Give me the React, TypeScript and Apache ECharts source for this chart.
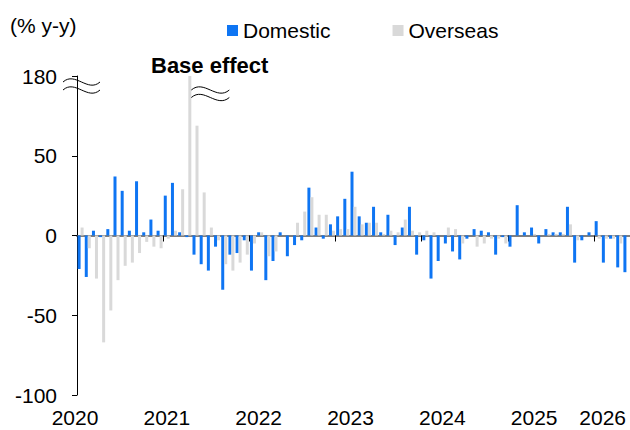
import React, { useEffect, useRef } from "react";
import * as echarts from "echarts";

// ---------- data ----------
const yearLabels = ["2020", "2021", "2022", "2023", "2024", "2025", "2026"];
const monthNames = ["01", "02", "03", "04", "05", "06", "07", "08", "09", "10", "11", "12"];
const monthCount = 77; // Jan 2020 .. May 2026
const months: string[] = [];
for (let i = 0; i < monthCount; i++) {
  months.push(yearLabels[Math.floor(i / 12)] + "-" + monthNames[i % 12]);
}

const domestic = [
  -21, -26, 3, -1, 4, 37, 28, 3, 34, 2, 10, 3,
  25, 33, 2, -1, -12, -18, -22, -7, -34, -12, -11, -3,
  -22, 2, -28, -16, 2, -13, -6, -3, 30, 5, -2, 7,
  12, 23, 40, 12, 8, 18, 2, 13, -6, 5, 18, -12,
  -3, -27, -16, -5, -10, -15, -2, 4, 3, 2, -12, -1,
  -7, 19, 2, 5, -5, 4, 2, 2, 18, -17, -3, 2,
  9, -17, -2, -20, -23,
];

const overseas = [
  5, -8, -27, -67, -47, -28, -19, -17, -11, -4, -7, -8,
  -2, 3, 29, 180, 99, 27, 5, -3, -18, -22, -17, -12,
  -5, 2, -13, -10, 0, 0, 8, 15, 24, 13, 13, 3,
  4, 4, 18, 7, 8, 8, 1, 3, 2, 10, 3, 2,
  3, 2, 0, 5, 4, -5, 0, -7, -5, -2, -2, -5,
  0, 0, 0, 1, 0, 1, 1, 1, 7, -3, 0, 0,
  -2, -2, -2, -5, null,
];

const yTicks = [-100, -50, 0, 50, 100]; // axis positions; 100 is shown as the break top
const BRK_LO = 50;
const BRK_HI = 180;
const AX_TOP = 100;

const toAxis = (v: number | null) =>
  v == null ? null : v > BRK_LO ? BRK_LO + ((v - BRK_LO) * (AX_TOP - BRK_LO)) / (BRK_HI - BRK_LO) : v;
const fromAxisLabel = (v: number) => (v >= AX_TOP ? String(BRK_HI) : String(v));

// ---------- style ----------
const FONT = "'Liberation Sans', Arial, sans-serif";
const BLUE = "#0E75F3";
const GRAY = "#D9D9D9";
const GRID_LEFT = 77;
const GRID_TOP = 76;
const GRID_BOTTOM = 35;

const wave = (x0: number, cy: number, w: number) => ({
  type: "bezierCurve",
  silent: true,
  z: 100,
  shape: {
    x1: x0,
    y1: cy,
    cpx1: x0 + w / 3,
    cpy1: cy - 11,
    cpx2: x0 + (2 * w) / 3,
    cpy2: cy + 11,
    x2: x0 + w,
    y2: cy,
  },
  style: { stroke: "#000", lineWidth: 1, fill: "none" },
});

export default function App() {
  const ref = useRef<HTMLDivElement>(null);

  useEffect(() => {
    if (!ref.current) return;
    const chart = echarts.init(ref.current, null, { renderer: "svg" });
    const option: any = {
      animation: false,
      backgroundColor: "#fff",
      textStyle: { fontFamily: FONT },
      legend: {
        data: ["Domestic", "Overseas"],
        left: 227,
        top: 20,
        padding: 0,
        icon: "rect",
        itemWidth: 11,
        itemHeight: 11,
        itemGap: 62,
        textStyle: { fontSize: 21, color: "#000", fontFamily: FONT },
      },
      grid: [
        { left: GRID_LEFT, top: GRID_TOP, width: 557, bottom: GRID_BOTTOM },
        { left: 75, top: GRID_TOP, width: 551, bottom: GRID_BOTTOM },
      ],
      xAxis: [
        {
          type: "category",
          gridIndex: 0,
          data: months,
          axisLine: { show: true, onZero: true, lineStyle: { color: "#7f7f7f", width: 2 } },
          axisTick: { show: true, interval: 11, length: 6, lineStyle: { color: "#000", width: 1 } },
          axisLabel: { show: false },
          splitLine: { show: false },
        },
        {
          type: "category",
          gridIndex: 1,
          data: yearLabels,
          boundaryGap: false,
          axisLine: { show: false },
          axisTick: { show: false },
          splitLine: { show: false },
          axisLabel: {
            show: true,
            interval: 0,
            margin: 12,
            fontSize: 21,
            color: "#000",
            fontFamily: FONT,
            alignMaxLabel: "right",
          },
        },
      ],
      yAxis: [
        {
          type: "value",
          gridIndex: 0,
          min: yTicks[0],
          max: yTicks[yTicks.length - 1],
          interval: 50,
          axisLine: { show: true, lineStyle: { color: "#000", width: 1 } },
          axisTick: { show: true, length: 5, lineStyle: { color: "#000", width: 1 } },
          splitLine: { show: false },
          axisLabel: {
            margin: 20,
            fontSize: 21,
            color: "#000",
            fontFamily: FONT,
            formatter: (v: number) => fromAxisLabel(v),
          },
        },
        { type: "value", gridIndex: 1, show: false },
      ],
      series: [
        {
          name: "Domestic",
          type: "bar",
          xAxisIndex: 0,
          yAxisIndex: 0,
          data: domestic.map(toAxis),
          barWidth: 3,
          barGap: "0%",
          itemStyle: { color: BLUE },
        },
        {
          name: "Overseas",
          type: "bar",
          xAxisIndex: 0,
          yAxisIndex: 0,
          data: overseas.map(toAxis),
          barWidth: 3,
          barGap: "0%",
          itemStyle: { color: GRAY },
        },
      ],
    };
    chart.setOption(option);

    const barIdx = overseas.indexOf(BRK_HI);
    let barX = 189;
    try {
      const p = chart.convertToPixel({ xAxisIndex: 0 }, barIdx);
      if (typeof p === "number" && isFinite(p)) barX = p;
    } catch (e) {
      /* keep fallback */
    }

    chart.setOption({
      graphic: [
        {
          type: "text",
          left: 10,
          top: 15,
          silent: true,
          style: { text: "(% y-y)", fontSize: 21, fontFamily: FONT, fill: "#000" },
        },
        {
          type: "text",
          x: 151,
          y: 65,
          silent: true,
          style: {
            text: "Base effect",
            fontSize: 22,
            fontWeight: "bold",
            fontFamily: FONT,
            fill: "#000",
            align: "left",
            verticalAlign: "middle",
          },
        },
        wave(GRID_LEFT - 14, GRID_TOP + 6, 37),
        wave(GRID_LEFT - 14, GRID_TOP + 14, 37),
        wave(barX + 3, 90, 38),
        wave(barX + 3, 97.5, 38),
      ],
    });

    return () => chart.dispose();
  }, []);

  return (
    <div
      ref={ref}
      style={{ position: "fixed", left: 0, top: 0, width: 630, height: 430, background: "#fff" }}
    />
  );
}
